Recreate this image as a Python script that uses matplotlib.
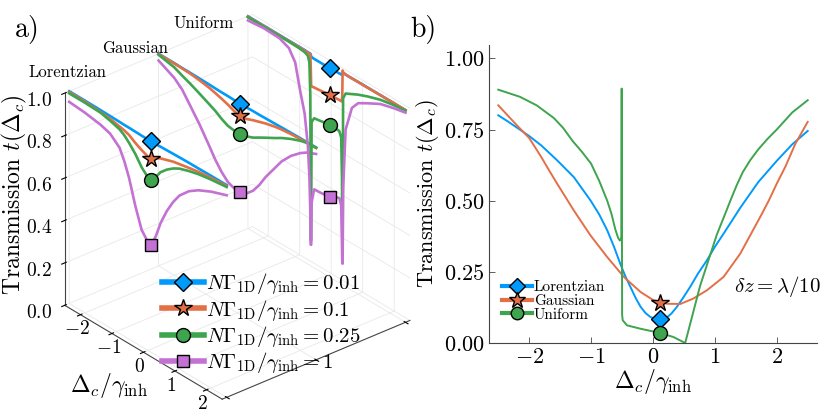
import numpy as np
import matplotlib
matplotlib.use("Agg")
from matplotlib import pyplot as plt
from matplotlib.lines import Line2D

plt.rcParams['font.family'] = 'serif'
plt.rcParams['font.serif'] = ['cmr10', 'DejaVu Serif']
plt.rcParams['mathtext.fontset'] = 'cm'
plt.rcParams['axes.formatter.use_mathtext'] = True
plt.rcParams['axes.unicode_minus'] = True

# ---- panel a data ----
slices = ['Lorentzian', 'Gaussian', 'Uniform']
depth = [0, 1, 2]
n_gamma = ['0.01', '0.1', '0.25', '1']

dc_lor = [-2.5, -2.0, -1.5, -1.2, -0.9, -0.75, -0.6, -0.4, -0.2, 0.0, 0.1, 0.25, 0.4, 0.6, 0.8, 1.0, 1.3, 1.6, 2.0, 2.5]
lor_001 = [1.0, 1.0, 0.999, 0.998, 0.997, 0.996, 0.996, 0.995, 0.994, 0.994, 0.994, 0.994, 0.995, 0.996, 0.997, 0.998, 0.999, 0.999, 1.0, 1.0]
lor_01 = [0.996, 0.995, 0.99, 0.985, 0.975, 0.97, 0.962, 0.942, 0.926, 0.913, 0.911, 0.928, 0.94, 0.95, 0.96, 0.966, 0.975, 0.983, 0.99, 0.996]
lor_025 = [0.99, 0.99, 0.987, 0.976, 0.962, 0.947, 0.925, 0.89, 0.845, 0.815, 0.81, 0.84, 0.875, 0.905, 0.928, 0.945, 0.96, 0.972, 0.982, 0.991]
lor_1 = [0.95, 0.943, 0.93, 0.915, 0.875, 0.825, 0.76, 0.645, 0.55, 0.51, 0.505, 0.56, 0.635, 0.71, 0.77, 0.818, 0.865, 0.896, 0.925, 0.952]

dc_gau = [-2.5, -2.0, -1.75, -1.5, -1.2, -0.9, -0.7, -0.5, -0.3, -0.1, 0.1, 0.3, 0.5, 0.7, 0.9, 1.2, 1.4, 1.7, 2.0, 2.2, 2.5]
gau_001 = [1.0, 1.0, 0.999, 0.999, 0.998, 0.997, 0.996, 0.995, 0.995, 0.994, 0.994, 0.994, 0.995, 0.995, 0.996, 0.997, 0.998, 0.999, 1.0, 1.0, 1.0]
gau_01 = [0.998, 0.998, 0.997, 0.995, 0.99, 0.982, 0.974, 0.965, 0.955, 0.942, 0.935, 0.94, 0.952, 0.962, 0.972, 0.983, 0.988, 0.993, 0.996, 0.997, 0.998]
gau_025 = [0.995, 0.98, 0.963, 0.948, 0.927, 0.905, 0.89, 0.87, 0.855, 0.85, 0.851, 0.858, 0.87, 0.888, 0.905, 0.93, 0.948, 0.97, 0.988, 0.996, 1.0]
gau_1 = [0.968, 0.93, 0.897, 0.845, 0.782, 0.71, 0.66, 0.62, 0.59, 0.578, 0.578, 0.59, 0.62, 0.665, 0.72, 0.79, 0.837, 0.89, 0.93, 0.95, 0.97]

dc_uni = [-2.5, -2.0, -1.5, -1.2, -1.0, -0.85, -0.7, -0.6, -0.55, -0.52, -0.505, -0.495, -0.48, -0.4, -0.2, 0.0,
          0.2, 0.4, 0.46, 0.485, 0.495, 0.505, 0.52, 0.6, 0.8, 1.0, 1.3, 1.7, 2.1, 2.5]
uni_001 = [1.0, 1.0, 1.0, 1.0, 1.0, 1.0, 1.0, 0.999, 0.999, 0.999, 0.995, 0.99, 0.986, 0.985, 0.985, 0.985,
           0.986, 0.987, 0.988, 0.988, 0.99, 1.002, 1.0, 0.999, 0.999, 1.0, 1.0, 1.0, 1.0, 1.0]
uni_01 = [0.998, 0.998, 0.998, 0.998, 0.998, 0.998, 0.997, 0.997, 0.996, 0.995, 0.93, 0.85, 0.848, 0.85, 0.853, 0.857,
          0.86, 0.862, 0.862, 0.862, 0.9, 1.01, 1.003, 1.0, 0.999, 0.999, 0.999, 1.0, 1.0, 1.0]
uni_025 = [0.995, 0.995, 0.995, 0.995, 0.994, 0.993, 0.99, 0.982, 0.955, 0.8, 0.12, 0.12, 0.68, 0.705, 0.71, 0.716,
           0.72, 0.715, 0.69, 0.5, 0.12, 0.12, 0.88, 0.91, 0.925, 0.94, 0.958, 0.978, 0.99, 0.997]
uni_1 = [0.98, 0.988, 0.985, 0.965, 0.915, 0.8, 0.7, 0.56, 0.42, 0.25, 0.1, 0.1, 0.3, 0.37, 0.372, 0.376,
         0.39, 0.4, 0.37, 0.2, 0.1, 0.1, 0.45, 0.74, 0.86, 0.9, 0.926, 0.958, 0.975, 0.988]

mark_dc = 0.1
mk_lor = [0.994, 0.911, 0.81, 0.505]
mk_gau = [0.994, 0.935, 0.851, 0.578]
mk_uni = [0.986, 0.858, 0.717, 0.38]

# ---- panel b data ----
b_lor_x = [-2.5, -2.35, -2.2, -2.0, -1.81, -1.55, -1.28, -1.01, -0.87, -0.74, -0.63, -0.53, -0.45, -0.365, -0.28, -0.2, -0.12,
           -0.04, 0.04, 0.12, 0.225, 0.3, 0.386, 0.49, 0.6, 0.73, 0.87, 1.0, 1.14, 1.41, 1.7, 2.0, 2.25, 2.5]
b_lor_y = [0.80, 0.779, 0.757, 0.727, 0.695, 0.642, 0.583, 0.501, 0.452, 0.396, 0.338, 0.279, 0.236, 0.197, 0.158, 0.127, 0.105,
           0.091, 0.085, 0.083, 0.09, 0.104, 0.127, 0.16, 0.197, 0.245, 0.29, 0.338, 0.384, 0.475, 0.565, 0.64, 0.698, 0.745]
b_gau_x = [-2.5, -2.35, -2.2, -2.0, -1.81, -1.68, -1.55, -1.28, -1.01, -0.74, -0.47, -0.2, 0.01, 0.225, 0.44, 0.65, 0.87,
           1.14, 1.41, 1.6, 1.75, 1.87, 2.0, 2.14, 2.3, 2.5]
b_gau_y = [0.835, 0.8, 0.765, 0.72, 0.655, 0.607, 0.56, 0.466, 0.378, 0.302, 0.232, 0.179, 0.15, 0.138, 0.137, 0.156, 0.185,
           0.232, 0.314, 0.39, 0.45, 0.5, 0.56, 0.62, 0.7, 0.777]
b_uni_x = [-2.5, -2.15, -1.88, -1.6, -1.45, -1.3, -1.15, -1.0, -0.87, -0.74, -0.67, -0.61, -0.565, -0.537, -0.52, -0.512,
           -0.506, -0.499, -0.49, -0.42, -0.2, 0.12, 0.33, 0.52, 0.76, 1.03, 1.15, 1.25, 1.35, 1.45, 1.57, 1.7, 1.85, 2.0,
           2.25, 2.5]
b_uni_y = [0.89, 0.865, 0.835, 0.79, 0.755, 0.71, 0.672, 0.63, 0.57, 0.5, 0.453, 0.4, 0.37, 0.36, 0.362, 0.375,
           0.894, 0.10, 0.08, 0.062, 0.05, 0.035, 0.021, 0.0, 0.2, 0.38, 0.445, 0.5, 0.553, 0.6, 0.642, 0.68, 0.717, 0.75,
           0.81, 0.853]
b_mark_x = 0.12
b_mark_y = [0.085, 0.141, 0.035]

colors = ['#009AFA', '#E36F47', '#3EA44E', '#C371D2']
markers = ['D', '*', 'o', 's']
msizes = [9, 13, 10, 8]

fig = plt.figure(figsize=(8.31, 4.17), dpi=100)

# ---------------- panel a ----------------
ax = fig.add_axes([0.031, -0.0032, 0.4958, 0.988], projection='3d', computed_zorder=False)
ax.set_proj_type('ortho')
ax.view_init(elev=30, azim=-40)
ax.set_box_aspect((1, 1, 1))
ax.patch.set_alpha(0)

curves = [
    (dc_lor, [lor_001, lor_01, lor_025, lor_1], mk_lor),
    (dc_gau, [gau_001, gau_01, gau_025, gau_1], mk_gau),
    (dc_uni, [uni_001, uni_01, uni_025, uni_1], mk_uni),
]
for k, (dc, ts, mks) in enumerate(curves):
    yy = np.full(len(dc), depth[k])
    for j in range(4):
        ax.plot(dc, yy, ts[j], color=colors[j], lw=1.9)
    for j in range(4):
        ax.plot([mark_dc], [depth[k]], [mks[j]], ls='none', marker=markers[j], ms=msizes[j],
                mfc=colors[j], mec='black', mew=1.0)

ax.set_xlim(-2.5, 2.5)
ax.set_ylim(-0.05, 2.05)
ax.set_zlim(0, 1)
ax.set_xticks([-2, -1, 0, 1, 2])
ax.set_xticklabels(['$-2$', '$-1$', '$0$', '$1$', '$2$'])
ax.set_yticks([0, 1, 2])
ax.set_yticklabels(['', '', ''])
ax.set_zticks([0, 0.2, 0.4, 0.6, 0.8, 1.0])
ax.set_zticklabels(['$0.0$', '$0.2$', '$0.4$', '$0.6$', '$0.8$', '$1.0$'])
ax.zaxis.set_ticks_position('lower')
ax.tick_params(labelsize=14)
ax.tick_params(axis='x', pad=-5)
for a in (ax.xaxis, ax.yaxis, ax.zaxis):
    a.set_pane_color((1, 1, 1, 0))
    a.pane.set_edgecolor((1, 1, 1, 0))
    a._axinfo['grid'].update(color='#e8e8e8', linewidth=0.6)
    a.line.set_color('#444444')
    a.line.set_linewidth(0.8)

handles = [Line2D([], [], color=colors[j], lw=4, marker=markers[j], ms=msizes[j],
                  mfc=colors[j], mec='black', mew=1.0) for j in range(4)]
labels = [r'$N\Gamma_{\rm 1D}/\gamma_{\rm inh} = %s$' % g for g in n_gamma]
fig.legend(handles, labels, loc='upper left', bbox_to_anchor=(154 / 831, 1 - 263 / 417),
           frameon=False, fontsize=15, handlelength=2.0, labelspacing=0.06, handletextpad=0.1,
           borderaxespad=0)

fig.text(14 / 831, 1 - 195 / 417, r'Transmission $t(\Delta_c)$', rotation=90, fontsize=17,
         ha='center', va='center')
fig.text(109 / 831, 1 - 386 / 417, r'$\Delta_c/\gamma_{\rm inh}$', fontsize=17, ha='center', va='center')
fig.text(67 / 831, 1 - 72 / 417, slices[0], fontsize=12, ha='center', va='center')
fig.text(135 / 831, 1 - 48 / 417, slices[1], fontsize=12, ha='center', va='center')
fig.text(204 / 831, 1 - 23 / 417, slices[2], fontsize=12, ha='center', va='center')
fig.text(27 / 831, 1 - 29 / 417, 'a)', fontsize=20, ha='center', va='center')
fig.text(423 / 831, 1 - 30 / 417, 'b)', fontsize=20, ha='center', va='center')

# ---------------- panel b ----------------
bx = fig.add_axes([489 / 831, 1 - 343 / 417, 328 / 831, 298 / 417])
series_b = [(b_lor_x, b_lor_y), (b_gau_x, b_gau_y), (b_uni_x, b_uni_y)]
for j, (xs, ys) in enumerate(series_b):
    bx.plot(xs, ys, color=colors[j], lw=1.4)
for j in range(3):
    bx.plot([b_mark_x], [b_mark_y[j]], ls='none', marker=markers[j], ms=msizes[j],
            mfc=colors[j], mec='black', mew=1.0)
bx.set_xlim(-2.65, 2.65)
bx.set_ylim(0, 1.047)
bx.set_xticks([-2, -1, 0, 1, 2])
bx.set_xticklabels(['$-2$', '$-1$', '$0$', '$1$', '$2$'])
bx.set_yticks([0, 0.25, 0.5, 0.75, 1.0])
bx.set_yticklabels(['$0.00$', '$0.25$', '$0.50$', '$0.75$', '$1.00$'])
bx.tick_params(direction='in', length=4, width=0.6, labelsize=16, color='#444444')
for s in ('top', 'right'):
    bx.spines[s].set_visible(False)
for s in ('left', 'bottom'):
    bx.spines[s].set_color('#444444')
    bx.spines[s].set_linewidth(0.8)
bx.set_ylabel(r'Transmission $t(\Delta_c)$', fontsize=16, labelpad=2)
bx.set_xlabel(r'$\Delta_c/\gamma_{\rm inh}$', fontsize=17, labelpad=0)
hb = [Line2D([], [], color=colors[j], lw=3, marker=markers[j], ms=msizes[j] - 1,
             mfc=colors[j], mec='black', mew=1.0) for j in range(3)]
bx.legend(hb, slices, loc='upper left', bbox_to_anchor=(0.02, 0.23), frameon=False, fontsize=11,
          handlelength=2.0, labelspacing=0.0, handletextpad=0.1, borderaxespad=0)
bx.text(0.88, 0.19, r'$\delta z = \lambda/10$', transform=bx.transAxes, fontsize=15,
        ha='center', va='center')

fig.savefig('out.png', dpi=100)
